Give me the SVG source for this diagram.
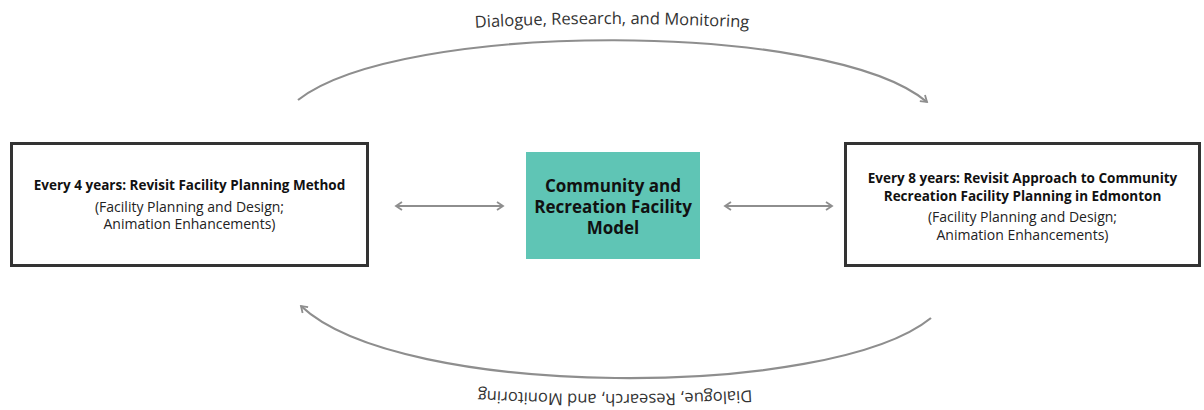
<svg xmlns="http://www.w3.org/2000/svg" width="1204" height="410" viewBox="0 0 1204 410">
<style>
.box{fill:#fff;stroke:#333;stroke-width:3}
.t{font-family:"Open Sans",Lato,sans-serif;fill:#111;text-anchor:middle}
.b{font-weight:bold;font-size:13.5px}
.s{font-size:14px;fill:#222}
.c{font-weight:bold;font-size:17px;fill:#111}
.lab{font-family:"Open Sans",Lato,sans-serif;font-size:16.5px;fill:#333}
.con{fill:none;stroke:#8e8e8e;stroke-width:2.2}
</style>
<defs>
<marker id="ah" viewBox="0 0 10 10" refX="8" refY="5" markerWidth="10" markerHeight="10" markerUnits="userSpaceOnUse" orient="auto-start-reverse">
<polyline points="2,1 8,5 2,9" fill="none" stroke="#8e8e8e" stroke-width="1.8"/>
</marker>
<path id="tp1" d="M 440 30 Q 612 18 784 30"/>
<path id="tp2" d="M 789 388 Q 615 400 441 388"/>
</defs>
<g id="connectors">
<path class="con" d="M 298 100 C 400 20, 830 20, 927 102" marker-end="url(#ah)"/>
<path class="con" d="M 931 318 C 830 400, 400 400, 301 306" marker-end="url(#ah)"/>
<line class="con" x1="396" y1="206" x2="503" y2="206" marker-start="url(#ah)" marker-end="url(#ah)"/>
<line class="con" x1="725" y1="206" x2="832" y2="206" marker-start="url(#ah)" marker-end="url(#ah)"/>
<text class="lab"><textPath href="#tp1" startOffset="50%" text-anchor="middle">Dialogue, Research, and Monitoring</textPath></text>
<text class="lab"><textPath href="#tp2" startOffset="50%" text-anchor="middle">Dialogue, Research, and Monitoring</textPath></text>
</g>
<g id="left">
<rect class="box" x="11.5" y="143.5" width="356" height="122"/>
<text class="t b" x="189.5" y="190">Every 4 years: Revisit Facility Planning Method</text>
<text class="t s" x="189.5" y="212">(Facility Planning and Design;</text>
<text class="t s" x="189.5" y="229">Animation Enhancements)</text>
</g>
<g id="center">
<rect x="526" y="152" width="174" height="107" fill="#5fc5b5"/>
<text class="t c" x="613" y="192">Community and</text>
<text class="t c" x="613" y="213">Recreation Facility</text>
<text class="t c" x="613" y="234">Model</text>
</g>
<g id="right">
<rect class="box" x="845.5" y="143.5" width="354" height="122"/>
<text class="t b" x="1022.5" y="183">Every 8 years: Revisit Approach to Community</text>
<text class="t b" x="1022.5" y="201">Recreation Facility Planning in Edmonton</text>
<text class="t s" x="1022.5" y="222">(Facility Planning and Design;</text>
<text class="t s" x="1022.5" y="240">Animation Enhancements)</text>
</g>
</svg>
